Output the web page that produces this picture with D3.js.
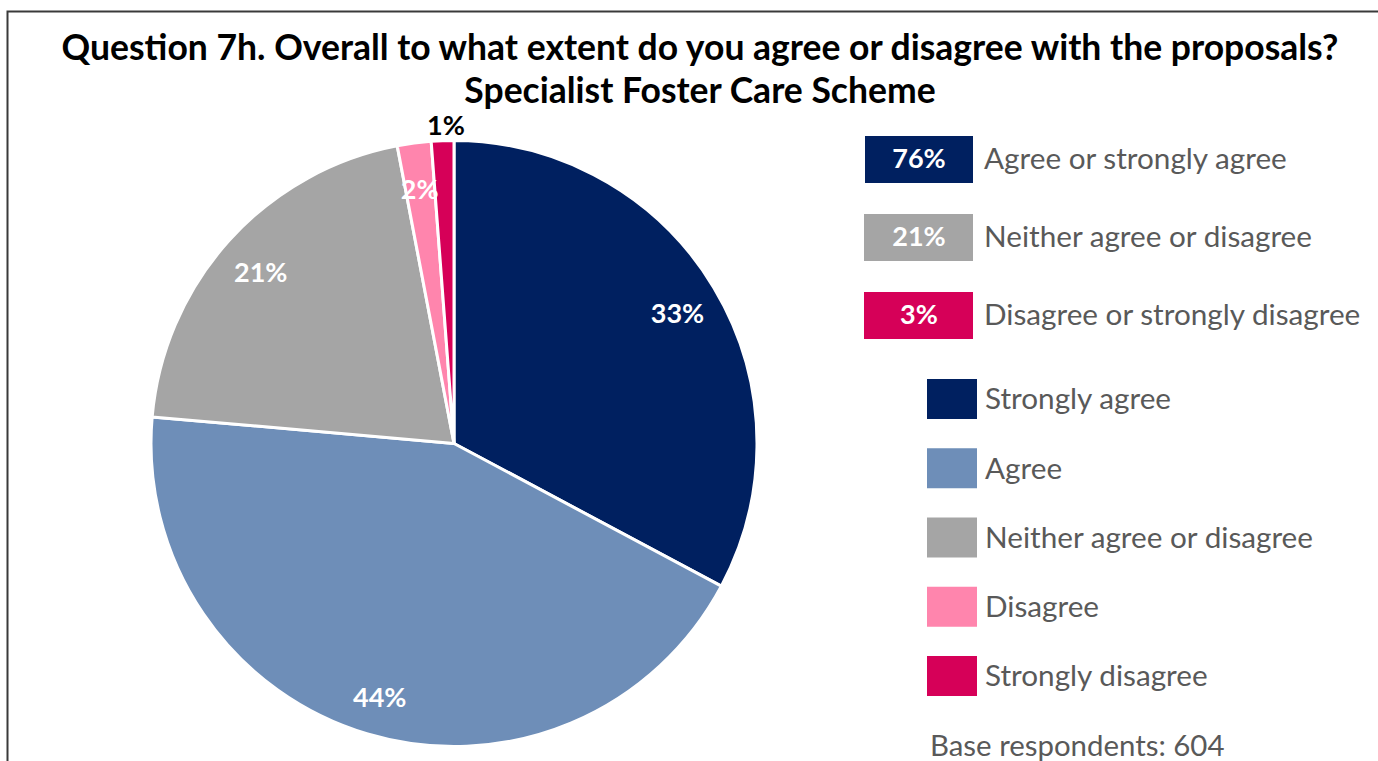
<!DOCTYPE html>
<html>
<head>
<meta charset="utf-8">
<script src="https://cdn.jsdelivr.net/npm/d3@7"></script>
<style>
  html, body { margin: 0; padding: 0; background: #fff; }
  svg { display: block; }
  text { font-family: Lato, "Open Sans", sans-serif; }
</style>
</head>
<body>
<svg id="chart" width="1378" height="761"></svg>
<script>
// Response shares (percent of respondents)
const categories = ["Strongly agree", "Agree", "Neither agree or disagree", "Disagree", "Strongly disagree"];
const values = [32.8, 43.6, 20.6, 1.8, 1.2];
const colors = ["#002060", "#6E8EB8", "#A5A5A5", "#FF85AD", "#D60058"];

// Grouped summary rows
const summaryLabels = ["Agree or strongly agree", "Neither agree or disagree", "Disagree or strongly disagree"];
const summaryMembers = [[0, 1], [2], [3, 4]];
const summaryColors = ["#002060", "#A5A5A5", "#D60058"];

const titleLines = [
  "Question 7h. Overall to what extent do you agree or disagree with the proposals?",
  "Specialist Foster Care Scheme"
];
const baseNote = "Base respondents: 604";

const svg = d3.select("#chart");

// frame
svg.append("rect")
  .attr("x", 7.5).attr("y", 11.5)
  .attr("width", 1400).attr("height", 800)
  .attr("fill", "none").attr("stroke", "#3a3a3a").attr("stroke-width", 2);

// title
svg.selectAll("text.title").data(titleLines).join("text")
  .attr("class", "title")
  .attr("x", 700)
  .attr("y", (d, i) => 60 + i * 43)
  .attr("text-anchor", "middle")
  .attr("font-size", 35.5)
  .attr("font-weight", 700)
  .attr("fill", "#000")
  .text(d => d);

// pie
const cx = 454, cy = 443.5, R = 303;
const pie = d3.pie().sort(null).value(d => d)
  .startAngle(0).endAngle(2 * Math.PI);
const arcs = pie(values);
const arc = d3.arc().innerRadius(0).outerRadius(R);
const labelArc = d3.arc().innerRadius(R * 0.86).outerRadius(R * 0.86);
const outerLabelArc = d3.arc().innerRadius(R + 15).outerRadius(R + 15);

const g = svg.append("g").attr("transform", `translate(${cx},${cy})`);
g.selectAll("path").data(arcs).join("path")
  .attr("d", arc)
  .attr("fill", (d, i) => colors[i])
  .attr("stroke", "#fff")
  .attr("stroke-width", 3)
  .attr("stroke-linejoin", "round");

const fmt = v => Math.round(v) + "%";
g.selectAll("text.slice").data(arcs).join("text")
  .attr("class", "slice")
  .attr("transform", d => {
    const small = d.data < 1.5;
    const p = (small ? outerLabelArc : labelArc).centroid(d);
    return `translate(${p[0] + (small ? 4 : 0)},${p[1] + (small ? 0 : 4)})`;
  })
  .attr("text-anchor", "middle")
  .attr("dy", "0.35em")
  .attr("font-size", 27)
  .attr("font-weight", 700)
  .attr("fill", d => d.data < 1.5 ? "#000" : "#fff")
  .text(d => fmt(d.data));

// summary legend
const sumY = d3.scalePoint().domain(d3.range(summaryLabels.length)).range([159, 315]);
const sg = svg.append("g");
const rows = sg.selectAll("g").data(summaryLabels).join("g")
  .attr("transform", (d, i) => `translate(0,${sumY(i)})`);
rows.append("rect")
  .attr("x", (d, i) => i === 0 ? 865 : 864).attr("y", -23)
  .attr("width", (d, i) => i === 0 ? 108 : 109).attr("height", 47)
  .attr("fill", (d, i) => summaryColors[i]);
rows.append("text")
  .attr("x", 919).attr("dy", "0.35em")
  .attr("text-anchor", "middle")
  .attr("font-size", 27).attr("font-weight", 700)
  .attr("fill", "#fff")
  .text((d, i) => fmt(d3.sum(summaryMembers[i], k => values[k])));
rows.append("text")
  .attr("x", 984).attr("dy", "0.35em")
  .attr("font-size", 29.7)
  .attr("fill", "#595959")
  .text(d => d);

// category legend
const legY = d3.scalePoint().domain(categories).range([399, 676]);
const lg = svg.append("g");
const items = lg.selectAll("g").data(categories).join("g")
  .attr("transform", d => `translate(0,${legY(d)})`);
items.append("rect")
  .attr("x", 927).attr("y", -20)
  .attr("width", 50).attr("height", 40)
  .attr("fill", (d, i) => colors[i]);
items.append("text")
  .attr("x", 985).attr("dy", "0.35em")
  .attr("font-size", 29.7)
  .attr("fill", "#595959")
  .text(d => d);

svg.append("text")
  .attr("x", 930).attr("y", 756)
  .attr("font-size", 29.4)
  .attr("fill", "#595959")
  .text(baseNote);
</script>
</body>
</html>
